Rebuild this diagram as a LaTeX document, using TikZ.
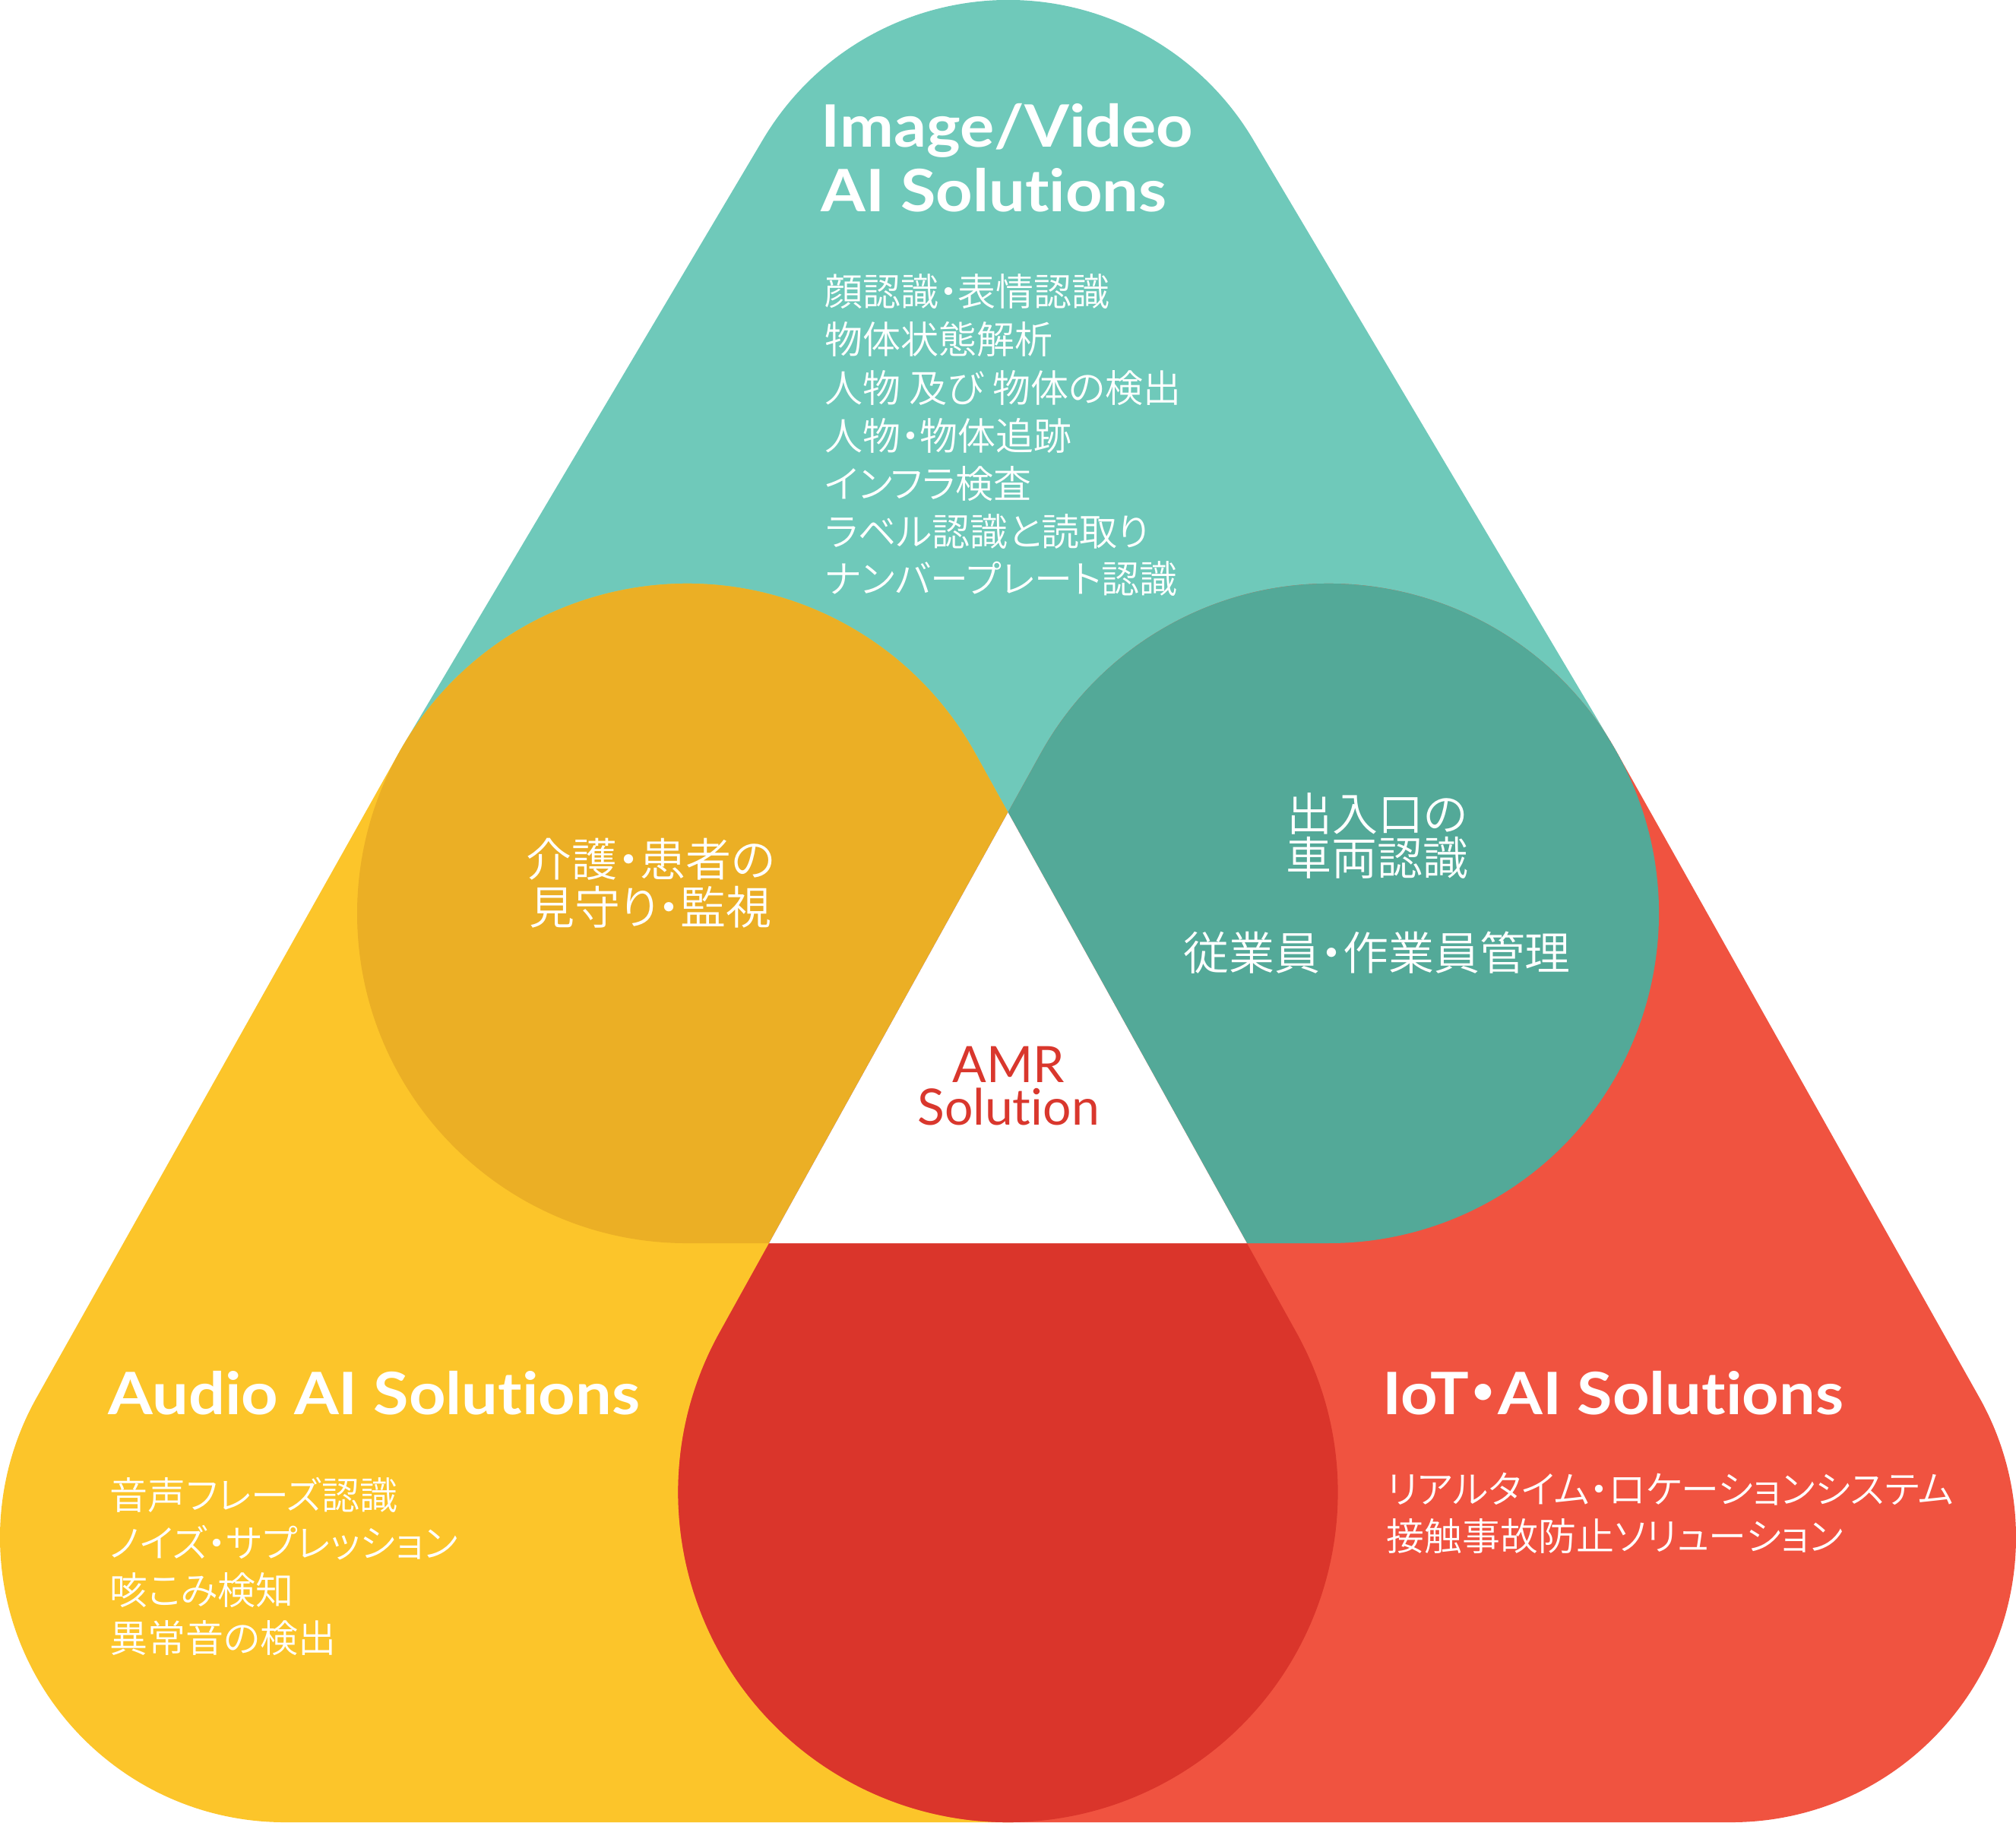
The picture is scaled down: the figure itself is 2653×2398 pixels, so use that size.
\documentclass[tikz,border=0pt]{standalone}
\usepackage{fontspec}
\setmainfont{Lato}[Ligatures=NoCommon]
\newfontfamily\hdfont{Lato}[FakeStretch=1.1,Ligatures=NoCommon]
\newfontfamily\jp{Noto Sans CJK JP DemiLight}[RawFeature=+palt]
\newfontfamily\jpb{Noto Sans CJK JP}[RawFeature=+palt]
\definecolor{cteal}{HTML}{6FC9BA}
\definecolor{cyel}{HTML}{FCC52A}
\definecolor{cred}{HTML}{F05340}
\definecolor{corange}{HTML}{EBAF25}
\definecolor{cdteal}{HTML}{53A998}
\definecolor{cdred}{HTML}{DA352B}
\definecolor{camr}{HTML}{D9372D}
\def\tealpath{(1004.1,183.5) arc[start angle=210.7,end angle=329.3,radius=375] -- (2122.2,980.4) arc[start angle=-30.7,end angle=90,radius=434] -- (904,1636) arc[start angle=90,end angle=210.7,radius=434] -- cycle}
\def\yelpath{(48.1,1839.3) -- (525.6,989.4) arc[start angle=209.33,end angle=331,radius=434] -- (1706.1,1753.6) arc[start angle=-29,end angle=90,radius=434] -- (375,2398) arc[start angle=90,end angle=209.33,radius=375] -- cycle}
\def\redpath{(2604.9,1839.3) -- (2127.4,989.4) arc[start angle=-29.33,end angle=-151,radius=434] -- (946.9,1753.6) arc[start angle=209,end angle=90,radius=434] -- (2278,2398) arc[start angle=90,end angle=-29.33,radius=375] -- cycle}
\begin{document}
\begin{tikzpicture}[x=0.1mm,y=-0.1mm,
  hd/.style={text=white,font=\hdfont\bfseries\fontsize{21.9}{26}\selectfont,inner sep=0,anchor=base west},
  ls/.style={text=white,font=\jp\fontsize{14.23}{17}\selectfont,inner sep=0,anchor=base west},
  cs/.style={text=white,font=\jp\fontsize{17.07}{20}\selectfont,inner sep=0,anchor=base,text height=0.8em,text depth=0.05em},
  amr/.style={text=camr,font=\fontsize{18.8}{22}\selectfont,inner sep=0,anchor=base,text height=0.7em,text depth=0pt}]
\useasboundingbox (0,0) rectangle (2653,2398);
\fill[cteal] \tealpath;
\fill[cyel] \yelpath;
\fill[cred] \redpath;
\begin{scope}
  \clip \tealpath;
  \fill[corange] \yelpath;
  \fill[cdteal] \redpath;
\end{scope}
\begin{scope}
  \clip \yelpath;
  \fill[cdred] \redpath;
\end{scope}
\begin{scope}
  \clip \tealpath;
  \clip \yelpath;
  \fill[white] \redpath;
\end{scope}
% top block
\node[hd] (img1) at (1080,193.7) {Image/Video};
\node[hd] (img2) at (1080,278) {AI Solutions};
\node[ls] (i1) at (1085,402) {顔認識・表情認識};
\node[ls] (i2) at (1085,465) {物体状態解析};
\node[ls] (i3) at (1085,529) {人物 及び 物体の検出};
\node[ls] (i4) at (1085,592) {人物・物体追跡};
\node[ls] (i5) at (1085,655) {インフラ検査};
\node[ls] (i6) at (1085,718) {ラベル認識と読取り};
\node[ls] (i7) at (1085,780) {ナンバープレート認識};
% audio block
\node[hd] (aud) at (142,1861) {Audio AI Solutions};
\node[ls] (a1) at (144,1986) {音声フレーズ認識};
\node[ls] (a2) at (144,2049) {ノイズ・サプレッション};
\node[ls] (a3) at (144,2111) {咳こみ検知};
\node[ls] (a4) at (144,2174) {異常音の検出};
% iot block
\node[hd] (iot) at (1819,1861) {IoT{\jpb\bfseries ・}AI Solutions};
\node[ls] (o1) at (1824,1978) {リアルタイム・ロケーションシステム};
\node[ls] (o2) at (1824,2040) {接触事故防止ソリューション};
% circles
\node[cs] (l1) at (856,1153) {介護・患者の};
\node[cs] (l2) at (856,1216) {見守り・監視};
\node[cs] (r1) at (1812,1093) {出入口の};
\node[cs] (r2) at (1812,1151) {車両認識};
\node[cs] (r3) at (1812,1276) {従業員・作業員管理};
% center
\node[amr] (amr1) at (1327,1424.5) {AMR};
\node[amr] (amr2) at (1327,1480.6) {Solution};
\end{tikzpicture}
\end{document}
